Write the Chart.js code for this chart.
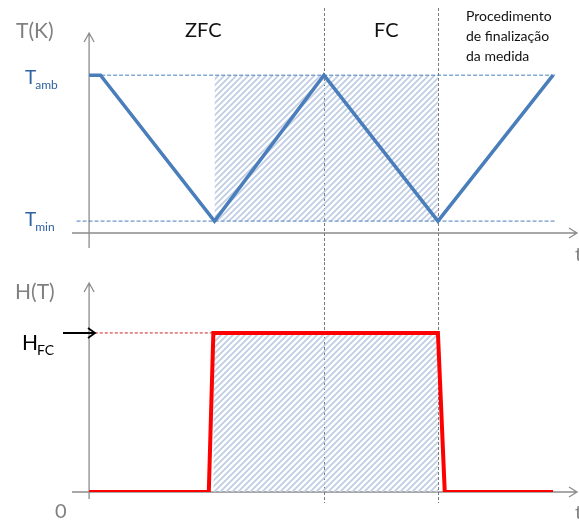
<!DOCTYPE html>
<html>
<head>
  <meta charset="UTF-8">
  <title>ZFC / FC</title>
  <script src="https://cdn.jsdelivr.net/npm/chart.js"></script>
  <style>
    body { margin: 0; background: #fff; }
    #wrap { position: relative; width: 579px; height: 523px; overflow: hidden; }
    #topChart { position: absolute; left: 0; top: 0; }
    #bottomChart { position: absolute; left: 0; top: 262px; }
  </style>
</head>
<body>
  <div id="wrap">
    <canvas id="topChart" width="579" height="262"></canvas>
    <canvas id="bottomChart" width="579" height="261"></canvas>
  </div>

  <script>
    // temperature profile T(t), arbitrary time units
    const tempTime = [0, 1, 11, 20.6, 30.6, 40.7];
    const tempValue = [300, 300, 30, 300, 30, 300];
    const tAmb = 300;
    const tMin = 30;

    // applied field H(t)
    const fieldTime = [0, 10.5, 10.9, 30.6, 31.2, 40.7];
    const fieldValue = [0, 0, 1, 1, 0, 0];
    const hFC = 1;

    // hatched measurement window and dashed phase limits
    const hatchTop = [11, 30.6];
    const hatchBottom = [10.9, 30.6];
    const phaseLimits = [20.6, 30.6];
    const guideEnd = 40.9;

    const FONT = 'Lato, "Liberation Sans", sans-serif';
    const BLUE = '#4a7ebb';
    const AXIS = '#8c8c8c';

    function makeHatch() {
      const c = document.createElement('canvas');
      c.width = 6; c.height = 6;
      const g = c.getContext('2d');
      g.strokeStyle = '#bfcde4';
      g.lineWidth = 1.7;
      g.beginPath();
      g.moveTo(-1, 7); g.lineTo(7, -1);
      g.moveTo(-1, 1); g.lineTo(1, -1);
      g.moveTo(5, 7); g.lineTo(7, 5);
      g.stroke();
      return g.createPattern(c, 'repeat');
    }
    const hatch = makeHatch();

    function pts(xs, ys) {
      return xs.map((v, i) => ({ x: v, y: ys[i] }));
    }

    // axes with open arrow heads plus the vertical dashed phase lines
    function axesPlugin(cfg) {
      return {
        id: 'axes',
        beforeDatasetsDraw(chart) {
          const ctx = chart.ctx;
          const x = chart.scales.x;
          const area = chart.chartArea;
          const x0 = x.getPixelForValue(0);
          const y0 = area.bottom;
          ctx.save();
          ctx.strokeStyle = AXIS;
          ctx.lineWidth = 1.3;
          ctx.beginPath();
          ctx.moveTo(72, y0); ctx.lineTo(577, y0);
          ctx.moveTo(x0, area.top); ctx.lineTo(x0, y0 + cfg.below);
          ctx.moveTo(x0 - 5, area.top + 9); ctx.lineTo(x0, area.top); ctx.lineTo(x0 + 5, area.top + 9);
          ctx.moveTo(569, y0 - 5); ctx.lineTo(577, y0); ctx.lineTo(569, y0 + 5);
          ctx.stroke();

          ctx.strokeStyle = '#7a7a7a';
          ctx.lineWidth = 1;
          ctx.setLineDash([3, 2]);
          ctx.beginPath();
          phaseLimits.forEach(t => {
            const px = Math.round(x.getPixelForValue(t)) + 0.5;
            ctx.moveTo(px, cfg.vTop); ctx.lineTo(px, cfg.vBottom);
          });
          ctx.stroke();
          ctx.restore();
        },
        afterDraw(chart) {
          cfg.labels(chart.ctx);
        }
      };
    }

    function sub(ctx, main, small, x, y, size, color) {
      ctx.fillStyle = color;
      ctx.textBaseline = 'alphabetic';
      ctx.textAlign = 'left';
      ctx.font = size + 'px ' + FONT;
      ctx.fillText(main, x, y);
      const w = ctx.measureText(main).width;
      ctx.font = Math.round(size * 0.65) + 'px ' + FONT;
      ctx.fillText(small, x + w - 1, y + 5);
    }

    function baseOptions(yMin, yMax, pad) {
      return {
        responsive: false,
        animation: false,
        layout: { padding: pad },
        plugins: { legend: { display: false }, tooltip: { enabled: false } },
        elements: { point: { radius: 0 }, line: { tension: 0 } },
        scales: {
          x: { type: 'linear', min: -1.5, max: 42.8, display: false },
          y: { min: yMin, max: yMax, display: false }
        }
      };
    }

    new Chart(document.getElementById('topChart'), {
      type: 'line',
      data: {
        datasets: [
          { data: pts(tempTime, tempValue), borderColor: BLUE, borderWidth: 3.5, fill: false, order: 0, borderJoinStyle: 'miter' },
          { data: pts([0, guideEnd], [tAmb, tAmb]), borderColor: BLUE, borderWidth: 1, borderDash: [4, 2], fill: false, order: 1 },
          { data: pts([-1.1, guideEnd], [tMin, tMin]), borderColor: BLUE, borderWidth: 1, borderDash: [4, 2], fill: false, order: 1 },
          { data: pts(hatchTop, [tAmb, tAmb]), borderWidth: 0, borderColor: 'rgba(0,0,0,0)', backgroundColor: hatch, fill: { value: tMin }, order: 2 }
        ]
      },
      options: baseOptions(8, 378, { left: 72, right: 2, top: 33, bottom: 29 }),
      plugins: [axesPlugin({
        below: 15, vTop: 8, vBottom: 262,
        labels(ctx) {
          ctx.save();
          ctx.textBaseline = 'alphabetic';
          ctx.fillStyle = '#808080';
          ctx.font = '21px ' + FONT;
          ctx.fillText('T(K)', 16, 38);
          ctx.fillStyle = '#111';
          ctx.font = '20px ' + FONT;
          ctx.fillText('ZFC', 185, 37);
          ctx.fillText('FC', 374, 37);
          ctx.font = '14px ' + FONT;
          ctx.fillText('Procedimento', 466, 21);
          ctx.fillText('de finalização', 466, 41);
          ctx.fillText('da medida', 466, 61);
          sub(ctx, 'T', 'amb', 25, 84, 19, '#2f62a3');
          sub(ctx, 'T', 'min', 25, 226, 19, '#2f62a3');
          ctx.fillStyle = '#808080';
          ctx.font = '20px ' + FONT;
          ctx.fillText('t', 575, 261);
          ctx.restore();
        }
      })]
    });

    new Chart(document.getElementById('bottomChart'), {
      type: 'line',
      data: {
        datasets: [
          { data: pts(fieldTime, fieldValue), borderColor: '#ff0000', borderWidth: 4, fill: false, order: 0, borderJoinStyle: 'miter' },
          { data: pts([0.5, hatchBottom[0]], [hFC, hFC]), borderColor: '#d02020', borderWidth: 1, borderDash: [3, 2], fill: false, order: 1 },
          { data: pts(hatchBottom, [hFC, hFC]), borderWidth: 0, borderColor: 'rgba(0,0,0,0)', backgroundColor: hatch, fill: { value: 0 }, order: 2 }
        ]
      },
      options: baseOptions(0, 1.314, { left: 72, right: 2, top: 21, bottom: 31 }),
      plugins: [axesPlugin({
        below: 7, vTop: 0, vBottom: 241,
        labels(ctx) {
          ctx.save();
          ctx.textBaseline = 'alphabetic';
          ctx.fillStyle = '#808080';
          ctx.font = '21px ' + FONT;
          ctx.fillText('H(T)', 15, 37);
          ctx.font = '20px ' + FONT;
          ctx.fillText('0', 55, 256);
          ctx.fillText('t', 575, 257);
          sub(ctx, 'H', 'FC', 22, 88, 21, '#000');
          // arrow pointing at H_FC level
          ctx.strokeStyle = '#000';
          ctx.lineWidth = 1.8;
          ctx.beginPath();
          ctx.moveTo(63, 71); ctx.lineTo(95, 71);
          ctx.moveTo(88, 66); ctx.lineTo(95, 71); ctx.lineTo(88, 76);
          ctx.stroke();
          ctx.restore();
        }
      })]
    });
  </script>
</body>
</html>
